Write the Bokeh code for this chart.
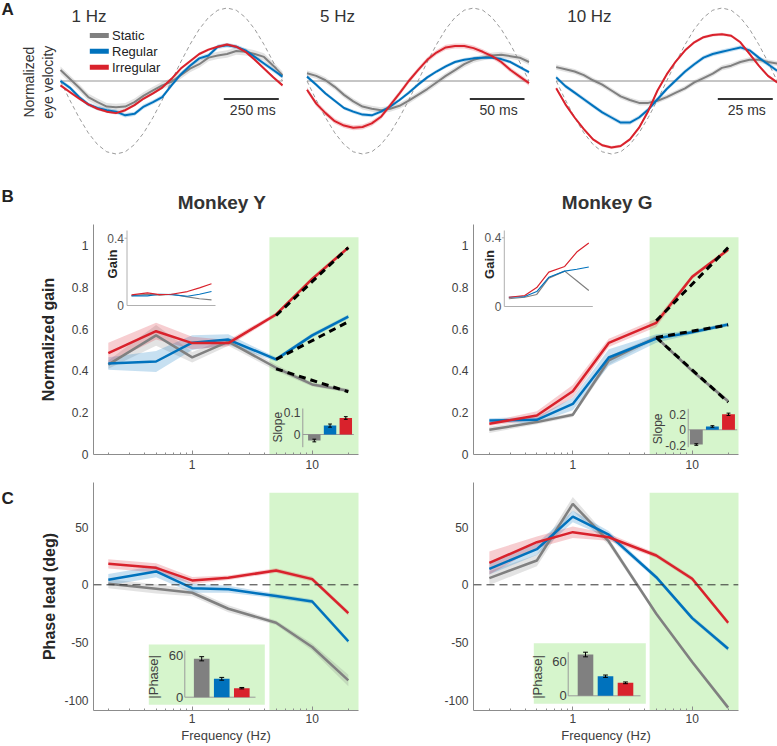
import numpy as np
from bokeh.plotting import figure
from bokeh.models import Range1d, LinearScale, LogScale, FixedTicker, Label, Span, NumeralTickFormatter
from bokeh.layouts import column, row
from bokeh.embed import file_html
from bokeh.resources import INLINE

# ------------------------------------------------------------------ data
conditions = ["Static", "Regular", "Irregular"]

# Panel A: one stimulus cycle, normalized eye velocity
cycle = np.linspace(0, 1, 25)
stimulus = [0, -0.26, -0.5, -0.71, -0.87, -0.97, -1, -0.97, -0.87, -0.71, -0.5, -0.26, 0,
            0.26, 0.5, 0.71, 0.87, 0.97, 1, 0.97, 0.87, 0.71, 0.5, 0.26, 0]
a1_static = [0.15, 0.03, -0.09, -0.22, -0.29, -0.35, -0.36, -0.35, -0.29, -0.20, -0.13, -0.06, -0.01,
             0.08, 0.17, 0.23, 0.32, 0.35, 0.37, 0.41, 0.40, 0.37, 0.33, 0.21, 0.08]
a1_regular = [0.0, -0.09, -0.22, -0.32, -0.37, -0.40, -0.42, -0.47, -0.45, -0.35, -0.29, -0.22, -0.06,
              0.09, 0.21, 0.31, 0.35, 0.47, 0.49, 0.47, 0.42, 0.33, 0.24, 0.15, 0.06]
a1_irregular = [-0.06, -0.15, -0.24, -0.32, -0.38, -0.42, -0.44, -0.40, -0.33, -0.24, -0.17, -0.09, 0.03,
                0.17, 0.27, 0.37, 0.43, 0.47, 0.50, 0.47, 0.40, 0.29, 0.17, 0.05, -0.06]
a5_static = [0.105, 0.07, 0.01, -0.08, -0.19, -0.28, -0.35, -0.38, -0.40, -0.38, -0.34, -0.27, -0.19,
             -0.11, -0.02, 0.07, 0.15, 0.23, 0.29, 0.32, 0.35, 0.36, 0.34, 0.32, 0.26]
a5_regular = [0.06, -0.05, -0.17, -0.27, -0.37, -0.42, -0.46, -0.47, -0.42, -0.35, -0.26, -0.16, -0.05,
              0.05, 0.13, 0.20, 0.26, 0.29, 0.31, 0.32, 0.32, 0.30, 0.26, 0.19, 0.12]
a5_irregular = [-0.12, -0.31, -0.44, -0.55, -0.61, -0.64, -0.63, -0.58, -0.49, -0.33, -0.17, 0.0, 0.15,
                0.29, 0.39, 0.46, 0.48, 0.48, 0.45, 0.40, 0.34, 0.26, 0.15, 0.06, -0.03]
a10_static = [0.19, 0.16, 0.13, 0.08, 0.01, -0.05, -0.13, -0.21, -0.26, -0.30, -0.30, -0.27, -0.22,
              -0.16, -0.10, -0.02, 0.04, 0.10, 0.18, 0.21, 0.26, 0.29, 0.29, 0.26, 0.24]
a10_regular = [0.05, -0.07, -0.16, -0.25, -0.34, -0.43, -0.50, -0.57, -0.57, -0.50, -0.39, -0.25, -0.11,
               0.01, 0.13, 0.23, 0.32, 0.37, 0.40, 0.43, 0.46, 0.42, 0.32, 0.23, 0.14]
a10_irregular = [-0.10, -0.32, -0.50, -0.66, -0.80, -0.88, -0.91, -0.89, -0.80, -0.64, -0.41, -0.13, 0.09,
                 0.27, 0.42, 0.53, 0.60, 0.63, 0.64, 0.62, 0.53, 0.37, 0.21, 0.07, -0.02]
a1_sem = [0.05, 0.03, 0.02]
a5_sem = [0.04, 0.025, 0.035]
a10_sem = [0.035, 0.03, 0.02]

# Panels B and C: frequency responses
freq = [0.2, 0.5, 1, 2, 5, 10, 20]
fit_freq = [5, 20]

gain_y_static = [0.43, 0.57, 0.465, 0.54, 0.415, 0.335, 0.305]
gain_y_regular = [0.435, 0.445, 0.535, 0.55, 0.455, 0.57, 0.66]
gain_y_irregular = [0.485, 0.59, 0.533, 0.533, 0.67, 0.84, 0.99]
gain_y_sem_static = [0.02, 0.05, 0.025, 0.02, 0.015, 0.01, 0.01]
gain_y_sem_regular = [0.03, 0.05, 0.035, 0.025, 0.01, 0.01, 0.01]
gain_y_sem_irregular = [0.05, 0.04, 0.03, 0.015, 0.01, 0.01, 0.01]
fit_y_static = [0.41, 0.30]
fit_y_regular = [0.455, 0.635]
fit_y_irregular = [0.665, 0.99]
raw_gain_y_static = [0.059, 0.067, 0.061, 0.067, 0.051, 0.040, 0.034]
raw_gain_y_regular = [0.057, 0.057, 0.067, 0.065, 0.055, 0.067, 0.083]
raw_gain_y_irregular = [0.063, 0.075, 0.065, 0.067, 0.083, 0.105, 0.129]
slope_y = [-0.027, 0.040, 0.074]
slope_y_err = [0.006, 0.007, 0.006]

gain_g_static = [0.118, 0.155, 0.19, 0.45, 0.561, 0.40, 0.255]
gain_g_regular = [0.163, 0.166, 0.242, 0.464, 0.555, 0.585, 0.622]
gain_g_irregular = [0.147, 0.187, 0.303, 0.534, 0.63, 0.85, 0.98]
gain_g_sem_static = [0.015, 0.01, 0.01, 0.02, 0.01, 0.01, 0.01]
gain_g_sem_regular = [0.01, 0.015, 0.03, 0.04, 0.02, 0.01, 0.01]
gain_g_sem_irregular = [0.01, 0.02, 0.03, 0.02, 0.02, 0.01, 0.01]
fit_g_static = [0.56, 0.25]
fit_g_regular = [0.56, 0.62]
fit_g_irregular = [0.64, 0.99]
raw_gain_g_static = [0.045, 0.054, 0.070, 0.165, 0.206, 0.150, 0.093]
raw_gain_g_regular = [0.054, 0.058, 0.087, 0.170, 0.206, 0.217, 0.230]
raw_gain_g_irregular = [0.054, 0.064, 0.110, 0.200, 0.233, 0.317, 0.370]
slope_g = [-0.19, 0.043, 0.20]
slope_g_err = [0.01, 0.01, 0.015]

phase_y_static = [0.9, -3.5, -6.9, -20.8, -32.9, -54, -83]
phase_y_regular = [4.3, 11.6, -2.9, -3.8, -9.8, -14.5, -49]
phase_y_irregular = [18.2, 14.7, 3.8, 6.1, 12.4, 4.9, -24.6]
phase_y_sem_static = [4, 4, 3, 3, 2, 3, 5]
phase_y_sem_regular = [5, 5, 4, 3, 2, 2, 2]
phase_y_sem_irregular = [4, 4, 3, 2, 2, 2, 2]
absphase_y = [55.3, 26.5, 13.0]
absphase_y_err = [3, 2, 1]

phase_g_static = [5.8, 21.1, 70.2, 37.6, -25.1, -67, -106.6]
phase_g_regular = [13.9, 30.9, 59.2, 43.6, 6.6, -28.9, -55.5]
phase_g_irregular = [19, 37, 45.7, 41.3, 25.4, 5.2, -33]
phase_g_sem_static = [6, 5, 6, 3, 2, 2, 2]
phase_g_sem_regular = [5, 5, 5, 3, 2, 2, 2]
phase_g_sem_irregular = [10, 5, 5, 3, 2, 2, 2]
absphase_g = [71.6, 34.0, 22.5]
absphase_g_err = [4, 2, 1.5]

band_lo, band_hi = 4.4, 30.0          # analysed high-frequency window
gain_band_top, phase_band_top = 1.04, 80

# ------------------------------------------------------------------ style
FONT = "Liberation Sans"
GRAY, BLUE, RED = "#808080", "#0072BD", "#D9222C"
COLORS = [GRAY, BLUE, RED]
GREEN = "#D6F5CC"
TXT = "#333333"
MINOR = [0.2, 0.3, 0.4, 0.5, 0.6, 0.7, 0.8, 0.9, 2, 3, 4, 5, 6, 7, 8, 9, 20]


def lin(v0, p0, v1, p1, pa, pb):
    k = (v1 - v0) / (p1 - p0)
    return Range1d(float(v0 + (pa - p0) * k), float(v0 + (pb - p0) * k))


def logr(v0, p0, v1, p1, pa, pb):
    r = lin(np.log10(v0), p0, np.log10(v1), p1, pa, pb)
    return Range1d(float(10 ** r.start), float(10 ** r.end))


def base_fig(w, h, frame, borders, xr, yr, xlog=False, axes=False):
    l, r, t, b = borders
    kw = dict(width=w, height=h, x_range=xr, y_range=yr, output_backend="svg",
              toolbar_location=None, title=None,
              min_border_left=l, min_border_right=r, min_border_top=t, min_border_bottom=b)
    if xlog:
        kw["x_axis_type"] = "log"
    if not axes:
        kw.update(x_axis_location=None, y_axis_location=None)
    p = figure(**kw)
    p.grid.visible = False
    p.outline_line_color = None
    fl, fr, ft, fb = frame
    p.extra_x_ranges["px"] = Range1d(fl, fr)
    p.extra_x_scales["px"] = LinearScale()
    p.extra_y_ranges["py"] = Range1d(fb, ft)
    p.extra_y_scales["py"] = LinearScale()
    return p


def add_text(p, x, y, s, size=12, color=TXT, bold=False, align="left", baseline="middle", angle=0.0):
    p.add_layout(Label(x=x, y=y, x_range_name="px", y_range_name="py", text=s,
                       text_font=FONT, text_font_size=f"{size}px",
                       text_font_style="bold" if bold else "normal", text_color=color,
                       text_align=align, text_baseline=baseline, angle=angle))


def px_seg(p, x0, y0, x1, y1, color="#b0b0b0", width=1):
    p.segment(x0=x0, y0=y0, x1=x1, y1=y1, x_range_name="px", y_range_name="py",
              line_color=color, line_width=width)


# ------------------------------------------------------------------ panel A (row also holds B titles)
ROW_A_H = 215


def trace_panel(w, frame, t0px, t1px, series, sems, title, title_px, bar_px, bar_label, zero_color, zero_w):
    fl, fr, ft, fb = frame
    p = base_fig(w, ROW_A_H, frame, (0, 0, 0, 0),
                 lin(0, t0px, 1, t1px, fl, fr), lin(0, 80.5, 1, 7.5, fb, ft))
    p.line(x=[cycle[0], cycle[-1]], y=[0, 0], line_color=zero_color, line_width=zero_w)
    p.line(cycle, stimulus, line_color="#9a9a9a", line_width=1, line_dash="4 3")
    for arr, s, c in zip(series, sems, COLORS):
        a = np.array(arr)
        p.varea(x=cycle, y1=a - s, y2=a + s, fill_color=c, fill_alpha=0.22)
    for arr, c in zip(series, COLORS):
        p.line(cycle, arr, line_color=c, line_width=2)
    add_text(p, title_px, 15.8, title, size=17)
    px_seg(p, [bar_px[0]], [98.5], [bar_px[1]], [98.5], color="#333333", width=2)
    add_text(p, (bar_px[0] + bar_px[1]) / 2 + 1.5, 109, bar_label, size=14, align="center")
    return p


pA1 = trace_panel(296, (0, 296, 0, ROW_A_H), 60, 282, [a1_static, a1_regular, a1_irregular], a1_sem,
                  "1 Hz", 71, (223.3, 278.3), "250 ms", "#b8b8b8", 1.5)
pA2 = trace_panel(244, (296, 540, 0, ROW_A_H), 306.5, 528.5, [a5_static, a5_regular, a5_irregular], a5_sem,
                  "5 Hz", 319.5, (469.3, 524), "50 ms", "#8c8c8c", 1)
pA3 = trace_panel(237, (540, 777, 0, ROW_A_H), 555.7, 776.7, [a10_static, a10_regular, a10_irregular],
                  a10_sem, "10 Hz", 566.7, (717.3, 772.3), "25 ms", "#8c8c8c", 1)

add_text(pA1, 1, 8.5, "A", size=17, bold=True, color="#222222")
add_text(pA1, 38, 81.7, "Normalized\neye velocity", size=14, align="center", angle=np.pi / 2)
for yy, name, c in zip([35, 50.7, 66.7], conditions, COLORS):
    px_seg(pA1, [89.3], [yy], [108.3], [yy], color=c, width=5)
    add_text(pA1, 111.5, yy, name, size=13, color="#222222")
# panel B letter and column titles
add_text(pA1, 1, 196, "B", size=17, bold=True, color="#222222")
add_text(pA1, 221.5, 201.5, "Monkey Y", size=19, bold=True, align="center")
add_text(pA3, 606.7, 201.5, "Monkey G", size=19, bold=True, align="center")


# ------------------------------------------------------------------ panels B & C helpers
def style_axes(p, yticks, yfmt, ylabel=None, ylabel_standoff=0):
    p.xaxis.ticker = FixedTicker(ticks=[1, 10], minor_ticks=MINOR)
    p.xaxis.formatter = NumeralTickFormatter(format="0")
    p.yaxis.ticker = FixedTicker(ticks=yticks)
    p.yaxis.formatter = NumeralTickFormatter(format=yfmt)
    for ax in (p.xaxis, p.yaxis):
        ax.axis_line_color = "#8c8c8c"
        ax.major_tick_line_color = "#8c8c8c"
        ax.minor_tick_line_color = "#8c8c8c"
        ax.major_label_text_font = FONT
        ax.major_label_text_font_size = "12px"
        ax.major_label_text_color = "#404040"
        ax.major_label_standoff = 5
        ax.major_tick_out = 0
        ax.minor_tick_out = 0
    p.xaxis.major_tick_in = 4
    p.xaxis.minor_tick_in = 2
    p.yaxis.major_tick_in = 0
    p.yaxis.minor_tick_line_color = None
    if ylabel:
        p.yaxis.axis_label = ylabel
        p.yaxis.axis_label_text_font = FONT
        p.yaxis.axis_label_text_font_size = "16px"
        p.yaxis.axis_label_text_font_style = "bold"
        p.yaxis.axis_label_text_color = "#262626"
        p.yaxis.axis_label_standoff = ylabel_standoff


def response_lines(p, series, sems, band_top, band_bottom):
    p.quad(left=[band_lo], right=[band_hi], bottom=[band_bottom], top=[band_top],
           fill_color=GREEN, line_color=None)
    for arr, s, c in zip(series, sems, COLORS):
        a, e = np.array(arr), np.array(s)
        p.varea(x=freq, y1=a - e, y2=a + e, fill_color=c, fill_alpha=0.22)
    for arr, c in zip(series, COLORS):
        p.line(freq, arr, line_color=c, line_width=2.5)


def bar_inset(p, xname, yname, vals, errs, width):
    xs = list(range(1, len(vals) + 1))
    p.vbar(x=xs, top=vals, bottom=0, width=width, fill_color=COLORS, line_color=None,
           x_range_name=xname, y_range_name=yname)
    v, e = np.array(vals), np.array(errs)
    p.segment(x0=xs, y0=v - e, x1=xs, y1=v + e, line_color="black", line_width=1,
              x_range_name=xname, y_range_name=yname)
    for yy in (v - e, v + e):
        p.segment(x0=np.array(xs) - 0.12, y0=yy, x1=np.array(xs) + 0.12, y1=yy,
                  line_color="black", line_width=1, x_range_name=xname, y_range_name=yname)


# ------------------------------------------------------------------ panel B
ROW_B_H = 260


def gain_panel(w, frame, borders, one_px, ten_px, series, sems, fits, raw, gx, gy, sx, sy, ylabel):
    fl, fr, ft, fb = frame
    p = base_fig(w, ROW_B_H, frame, borders, logr(1, one_px, 10, ten_px, fl, fr),
                 lin(0, 454, 1, 245, fb, ft), xlog=True, axes=True)
    style_axes(p, [0, 0.2, 0.4, 0.6, 0.8, 1], "0.[0]", ylabel, 12)
    response_lines(p, series, sems, gain_band_top, 0)
    for f in fits:
        p.line(fit_freq, f, line_color="black", line_width=3, line_dash="7 5")
    # raw gain inset
    p.extra_x_ranges["gx"] = logr(0.2, gx[0], 20, gx[1], fl, fr)
    p.extra_x_scales["gx"] = LogScale()
    p.extra_y_ranges["gy"] = lin(0, gy[0], 0.4, gy[1], fb, ft)
    p.extra_y_scales["gy"] = LinearScale()
    ax0 = gx[0] - 4.5
    px_seg(p, [ax0, ax0, ax0], [gy[0], gy[0], gy[1]], [ax0, gx[1] + 4, ax0 - 2.5], [230, gy[0], gy[1]])
    add_text(p, ax0 - 3, gy[1], "0.4", size=12, color="#555555", align="right")
    add_text(p, ax0 - 3, gy[0], "0", size=12, color="#555555", align="right")
    add_text(p, ax0 - 15, (230 + gy[0]) / 2 - 4, "Gain", size=13, bold=True, color="#262626",
             align="center", angle=np.pi / 2)
    for arr, c in zip(raw, COLORS):
        p.line(freq, arr, line_color=c, line_width=1.2, x_range_name="gx", y_range_name="gy")
    # slope inset ranges
    p.extra_x_ranges["sx"] = lin(1, sx[0], 3, sx[1], fl, fr)
    p.extra_x_scales["sx"] = LinearScale()
    p.extra_y_ranges["sy"] = lin(0, sy[0], sy[2], sy[1], fb, ft)
    p.extra_y_scales["sy"] = LinearScale()
    return p


pBL = gain_panel(390, (93, 358, 224, 454), (93, 32, 9, 21), 191.7, 311.7,
                 [gain_y_static, gain_y_regular, gain_y_irregular],
                 [gain_y_sem_static, gain_y_sem_regular, gain_y_sem_irregular],
                 [fit_y_static, fit_y_regular, fit_y_irregular],
                 [raw_gain_y_static, raw_gain_y_regular, raw_gain_y_irregular],
                 (131, 211), (305, 237.7), (313.8, 345.3), (434, 411.7, 0.1), "Normalized gain")
px_seg(pBL, [302.3, 302.3], [408, 434], [302.3, 353.3], [446.7, 434], color="#9a9a9a")
bar_inset(pBL, "sx", "sy", slope_y, slope_y_err, 0.79)
add_text(pBL, 300, 411.7, "0.1", size=12, color="#404040", align="right")
add_text(pBL, 300, 434, "0", size=12, color="#404040", align="right")
add_text(pBL, 277, 426.7, "Slope", size=12, color="#404040", align="center", angle=np.pi / 2)

pBR = gain_panel(387, (473, 738, 224, 454), (83, 39, 9, 21), 572.3, 691.7,
                 [gain_g_static, gain_g_regular, gain_g_irregular],
                 [gain_g_sem_static, gain_g_sem_regular, gain_g_sem_irregular],
                 [fit_g_static, fit_g_regular, fit_g_irregular],
                 [raw_gain_g_static, raw_gain_g_regular, raw_gain_g_irregular],
                 (508.3, 588.3), (306, 237.3), (695.8, 728), (429.3, 413.8, 0.2), None)
px_seg(pBR, [687.7, 687.7], [408.3, 429.3], [687.7, 736.7], [446.7, 429.3], color="#9a9a9a")
bar_inset(pBR, "sx", "sy", slope_g, slope_g_err, 0.8)
add_text(pBR, 685.5, 413.5, "0.2", size=12, color="#404040", align="right")
add_text(pBR, 685.5, 429.3, "0", size=12, color="#404040", align="right")
add_text(pBR, 685.5, 444.5, "-0.2", size=12, color="#404040", align="right")
add_text(pBR, 657, 428.3, "Slope", size=12, color="#404040", align="center", angle=np.pi / 2)


# ------------------------------------------------------------------ panel C
ROW_C_H = 271


def phase_panel(w, frame, borders, one_px, ten_px, series, sems, vals, errs, bx, by, bg, axis_px, ylabel):
    fl, fr, ft, fb = frame
    yr = lin(0, 584.3, 50, 526.7, fb, ft)
    p = base_fig(w, ROW_C_H, frame, borders, logr(1, one_px, 10, ten_px, fl, fr), yr, xlog=True, axes=True)
    style_axes(p, [-100, -50, 0, 50], "0", ylabel, 3)
    p.xaxis.major_label_standoff = 3
    p.xaxis.axis_label = "Frequency (Hz)"
    p.xaxis.axis_label_text_font = FONT
    p.xaxis.axis_label_text_font_size = "13px"
    p.xaxis.axis_label_text_font_style = "normal"
    p.xaxis.axis_label_text_color = "#404040"
    p.xaxis.axis_label_standoff = 2
    response_lines(p, series, sems, phase_band_top, yr.start)
    p.add_layout(Span(location=0, dimension="width", line_color="#333333", line_width=1,
                      line_dash="8 5"))
    # |phase| inset
    p.quad(left=[bg[0]], right=[bg[1]], bottom=[bg[3]], top=[bg[2]], fill_color=GREEN,
           line_color=None, x_range_name="px", y_range_name="py")
    ax0, ax1, atop = axis_px
    px_seg(p, [ax0, ax0], [by[0], by[0]], [ax0, ax1], [atop, by[0]], color="#9a9a9a")
    p.extra_x_ranges["bx"] = lin(1, bx[0], 3, bx[1], fl, fr)
    p.extra_x_scales["bx"] = LinearScale()
    p.extra_y_ranges["by"] = lin(0, by[0], 60, by[1], fb, ft)
    p.extra_y_scales["by"] = LinearScale()
    bar_inset(p, "bx", "by", vals, errs, 0.78)
    add_text(p, ax0 - 1.5, by[1], "60", size=13, color="#404040", align="right")
    add_text(p, ax0 - 1.5, by[0], "0", size=13, color="#404040", align="right")
    add_text(p, ax0 - 31, (atop + by[0]) / 2 + 3, "|Phase|", size=13, color="#404040",
             align="center", angle=np.pi / 2)
    return p


pCstrip = base_fig(30, ROW_C_H, (0, 30, 475, 746), (0, 0, 0, 0), Range1d(0, 30), Range1d(746, 475))
add_text(pCstrip, 1, 494, "C", size=17, bold=True, color="#222222")

pCL = phase_panel(360, (93, 358, 482, 710), (63, 32, 7, 36), 191.7, 311.7,
                  [phase_y_static, phase_y_regular, phase_y_irregular],
                  [phase_y_sem_static, phase_y_sem_regular, phase_y_sem_irregular],
                  absphase_y, absphase_y_err, (201.2, 241.3), (696.7, 655),
                  (148.3, 264.3, 644, 704.3), (184.3, 255, 650), "Phase lead (deg)")

pCR = phase_panel(387, (473, 738, 482, 710), (83, 39, 7, 36), 572.3, 691.7,
                  [phase_g_static, phase_g_regular, phase_g_irregular],
                  [phase_g_sem_static, phase_g_sem_regular, phase_g_sem_irregular],
                  absphase_g, absphase_g_err, (585, 625), (695.3, 660.7),
                  (533.3, 645.3, 642.7, 703.3), (567.7, 640, 651.7), None)

layout = column(row(pA1, pA2, pA3), row(pBL, pBR), row(pCstrip, pCL, pCR))
open("out.html", "w").write(file_html(layout, INLINE))
